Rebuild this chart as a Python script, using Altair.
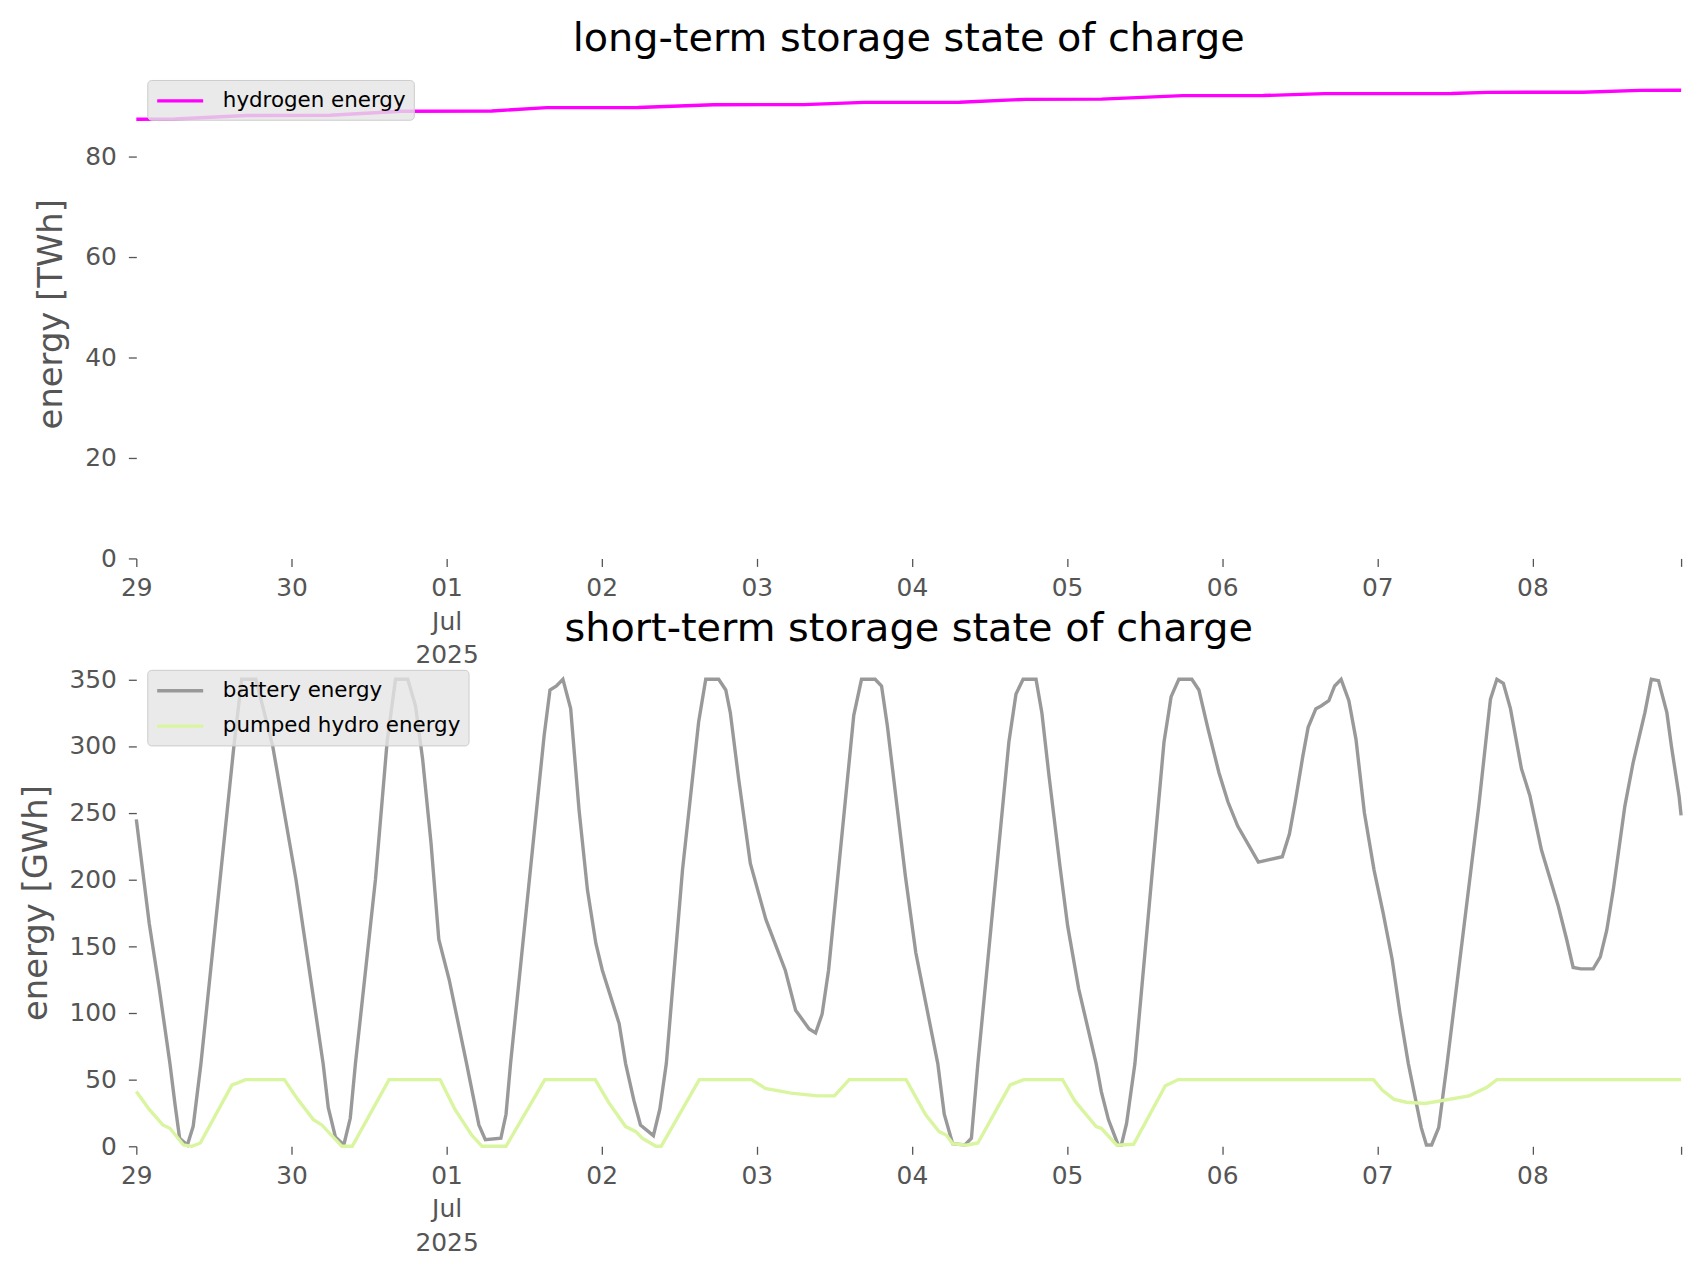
import altair as alt
import pandas as pd

START = pd.Timestamp("2025-06-29 00:00:00")

# ---- data (hours since 2025-06-29 00:00) ----
hydrogen_hours = [0, 6, 17, 30, 41, 55, 63.5, 77.6, 89.3, 103.3, 112.6, 127.4,
                  137.6, 149.3, 161.9, 174.4, 183.8, 203.5, 209.0, 223.8, 232.6, 239.0]
hydrogen_twh = [87.4, 87.45, 88.15, 88.2, 89.0, 89.05, 89.72, 89.75, 90.3, 90.32, 90.77, 90.8,
                91.37, 91.4, 92.1, 92.12, 92.5, 92.52, 92.76, 92.78, 93.16, 93.17]

battery_hours = [0, 2, 3.5, 5.2, 6.0, 6.7, 7.9, 8.8, 10.0, 15.1, 16.3, 18.5, 21.1, 24.7,
                 28.9, 29.7, 30.8, 32.1, 33.1, 33.9, 37.0, 38.8, 40.1, 42.0, 43.2, 44.3,
                 45.6, 46.8, 48.4, 51.1, 53.0, 54.0, 56.4, 57.2, 57.9, 63.1, 64.0, 65.0,
                 66.0, 67.2, 68.5, 69.8, 71.1, 72.1, 74.7, 75.7, 77.0, 78.0, 80.0, 81.0,
                 82.0, 84.5, 87.0, 88.1, 90.1, 91.2, 91.9, 93.2, 95.0, 97.4, 100.4, 102.0,
                 104.1, 105.1, 106.1, 107.1, 111.0, 112.2, 114.3, 115.3, 116.2, 119.0,
                 120.6, 124.0, 125.0, 126.3, 128.2, 129.2, 130.2, 135.0, 136.1, 137.2,
                 139.2, 140.1, 141.2, 142.9, 144.1, 145.8, 148.5, 149.3, 150.4, 151.9,
                 152.4, 153.2, 154.5, 159.0, 160.1, 161.3, 163.3, 164.4, 165.8, 167.5,
                 168.9, 170.4, 173.6, 177.3, 178.4, 179.3, 180.5, 181.3, 182.5, 183.3,
                 184.5, 185.4, 186.4, 187.6, 188.7, 190.0, 191.5, 192.9, 194.3, 195.5,
                 196.8, 198.8, 199.6, 200.4, 201.5, 202.8, 207.7, 209.5, 210.5, 211.5,
                 212.6, 214.3, 215.6, 217.4, 220.0, 221.3, 222.3, 223.5, 225.4, 226.5,
                 227.5, 228.5, 230.3, 231.6, 233.4, 234.4, 235.5, 236.8, 237.5, 238.7, 239.0]
battery_gwh = [245, 167, 120, 62, 31, 6, 1, 15, 62, 300, 350, 350, 300, 200,
               62, 29, 7, 1, 21, 62, 200, 303, 350, 350, 330, 290,
               227, 155, 125, 62, 16, 5, 6, 24, 62, 308, 342, 345,
               350, 328, 252, 192, 152, 132, 92, 62, 34, 16, 8, 28,
               62, 207, 318, 350, 350, 342, 325, 275, 212, 170, 132, 102,
               88, 85, 99, 132, 323, 350, 350, 345, 315, 202,
               145, 62, 24, 2, 1, 6, 62, 303, 339, 350,
               350, 325, 278, 210, 165, 118, 62, 41, 20, 1,
               1, 17, 62, 303, 337, 350, 350, 342, 313, 280,
               258, 240, 213, 217, 234, 258, 293, 314, 328, 330,
               334, 345, 350, 334, 305, 250, 207, 175, 140, 100,
               62, 14, 1, 1, 14, 62, 255, 335, 350, 347,
               328, 283, 263, 222, 180, 155, 134, 133, 133, 142,
               162, 192, 255, 288, 325, 350, 349, 325, 300, 262, 248]

hydro_hours = [0, 2.0, 4.1, 5.2, 7.3, 8.6, 9.9, 14.8, 15.6, 16.9, 22.9, 25.0, 27.4, 28.7,
               31.8, 33.4, 39.1, 47.0, 49.3, 51.9, 53.5, 57.2, 63.2, 71.0, 73.1, 75.7,
               77.3, 78.3, 80.4, 81.2, 87.1, 95.2, 97.3, 101.3, 105.4, 108.0, 110.3,
               119.1, 122.1, 124.2, 125.3, 126.3, 128.4, 130.2, 135.2, 137.3, 143.3,
               145.2, 148.5, 149.3, 151.7, 154.3, 159.2, 161.2, 191.4, 192.8, 194.6,
               196.5, 199.4, 206.2, 208.9, 210.5, 239.0]
hydro_gwh = [41, 27.6, 16, 13.5, 1, 0, 2.5, 46, 47.4, 50, 50, 35, 20, 16,
             0, 0, 50, 50, 27.6, 8.4, 0, 0, 50, 50, 32.7, 14.8,
             11, 6, 0, 0, 50, 50, 43.4, 39.8, 37.8, 37.8, 50,
             50, 23.7, 11, 8.4, 2, 0.8, 2.5, 46, 50, 50,
             34, 14.8, 13.5, 0.8, 1.5, 45.4, 50, 50, 42, 35.2,
             33, 32.1, 37.8, 44, 50, 50]

top_ticks = [0, 20, 40, 60, 80]
bottom_ticks = [0, 50, 100, 150, 200, 250, 300, 350]


def frame(hours, values, name):
    return pd.DataFrame({
        "time": [(START + pd.Timedelta(hours=h)).strftime("%Y-%m-%dT%H:%M:%S") for h in hours],
        "value": values,
        "series": name,
    })


top_df = frame(hydrogen_hours, hydrogen_twh, "hydrogen energy")
bottom_df = pd.concat([
    frame(battery_hours, battery_gwh, "battery energy"),
    frame(hydro_hours, hydro_gwh, "pumped hydro energy"),
], ignore_index=True)

FONT = "DejaVu Sans"
GREY = "#555555"
PLOT_W = 1553
LINE_W = 3.4

x_domain = [alt.DateTime(year=2025, month=6, date=29),
            alt.DateTime(year=2025, month=7, date=8, hours=23)]
x_values = ([alt.DateTime(year=2025, month=6, date=d) for d in (29, 30)] +
            [alt.DateTime(year=2025, month=7, date=d) for d in range(1, 9)] +
            [alt.DateTime(year=2025, month=7, date=8, hours=23)])


def x_enc():
    return alt.X(
        "time:T",
        scale=alt.Scale(domain=x_domain),
        axis=alt.Axis(
            title=None, values=x_values, grid=False, domain=False,
            tickSize=8, tickColor=GREY, tickWidth=1.3,
            labelColor=GREY, labelFontSize=25, labelFont=FONT, labelPadding=9,
            labelLineHeight=34, labelOverlap=False, labelFlush=False,
            labelAlign="center", labelBaseline="top",
            labelExpr="hours(datum.value) == 23 ? '' : (date(datum.value) == 1 ? ['01', 'Jul', '2025'] : timeFormat(datum.value, '%d'))",
        ),
    )


def y_enc(title, domain_top, ticks):
    return alt.Y(
        "value:Q",
        scale=alt.Scale(domain=[0, domain_top], nice=False, zero=False),
        axis=alt.Axis(
            title=title, values=ticks, grid=False, domain=False,
            tickSize=8, tickColor=GREY, tickWidth=1.3,
            labelColor=GREY, labelFontSize=25, labelFont=FONT, labelPadding=12,
            titleColor=GREY, titleFontSize=34, titleFont=FONT, titleFontWeight="normal",
            titlePadding=16,
        ),
    )


def legend():
    return alt.Legend(
        title=None, orient="top-left", offset=11, padding=8,
        fillColor="rgba(229,229,229,0.8)", strokeColor="#cccccc", cornerRadius=4,
        labelFontSize=21.5, labelFont=FONT, labelColor="black", labelOffset=42,
        labelLimit=600,
        symbolType="M-1,0H3.2", symbolSize=484, symbolStrokeWidth=LINE_W,
        rowPadding=11.6,
    )


def title(text):
    return alt.TitleParams(text=text, fontSize=40, font=FONT, fontWeight="normal",
                           color="black", anchor="middle", frame="group",
                           baseline="alphabetic", offset=-22)


top = alt.Chart(top_df).mark_line(strokeWidth=LINE_W).encode(
    x=x_enc(),
    y=y_enc("energy [TWh]", 97.4, top_ticks),
    color=alt.Color("series:N",
                    scale=alt.Scale(domain=["hydrogen energy"], range=["#ff00ff"]),
                    legend=legend()),
).properties(width=PLOT_W, height=492, title=title("long-term storage state of charge"))

bottom = alt.Chart(bottom_df).mark_line(strokeWidth=LINE_W).encode(
    x=x_enc(),
    y=y_enc("energy [GWh]", 365.3, bottom_ticks),
    color=alt.Color("series:N",
                    scale=alt.Scale(domain=["battery energy", "pumped hydro energy"],
                                    range=["#999999", "#daf5a0"]),
                    legend=legend()),
).properties(width=PLOT_W, height=490, title=title("short-term storage state of charge"))

chart = alt.vconcat(top, bottom, spacing=101, bounds="flush").resolve_scale(
    color="independent", y="independent"
).resolve_legend(color="independent").properties(
    padding={"left": 11, "top": 8, "right": 10, "bottom": 10},
    background="white",
).configure_view(stroke=None)

chart.save("out.html", embed_options={"renderer": "svg", "actions": False})
